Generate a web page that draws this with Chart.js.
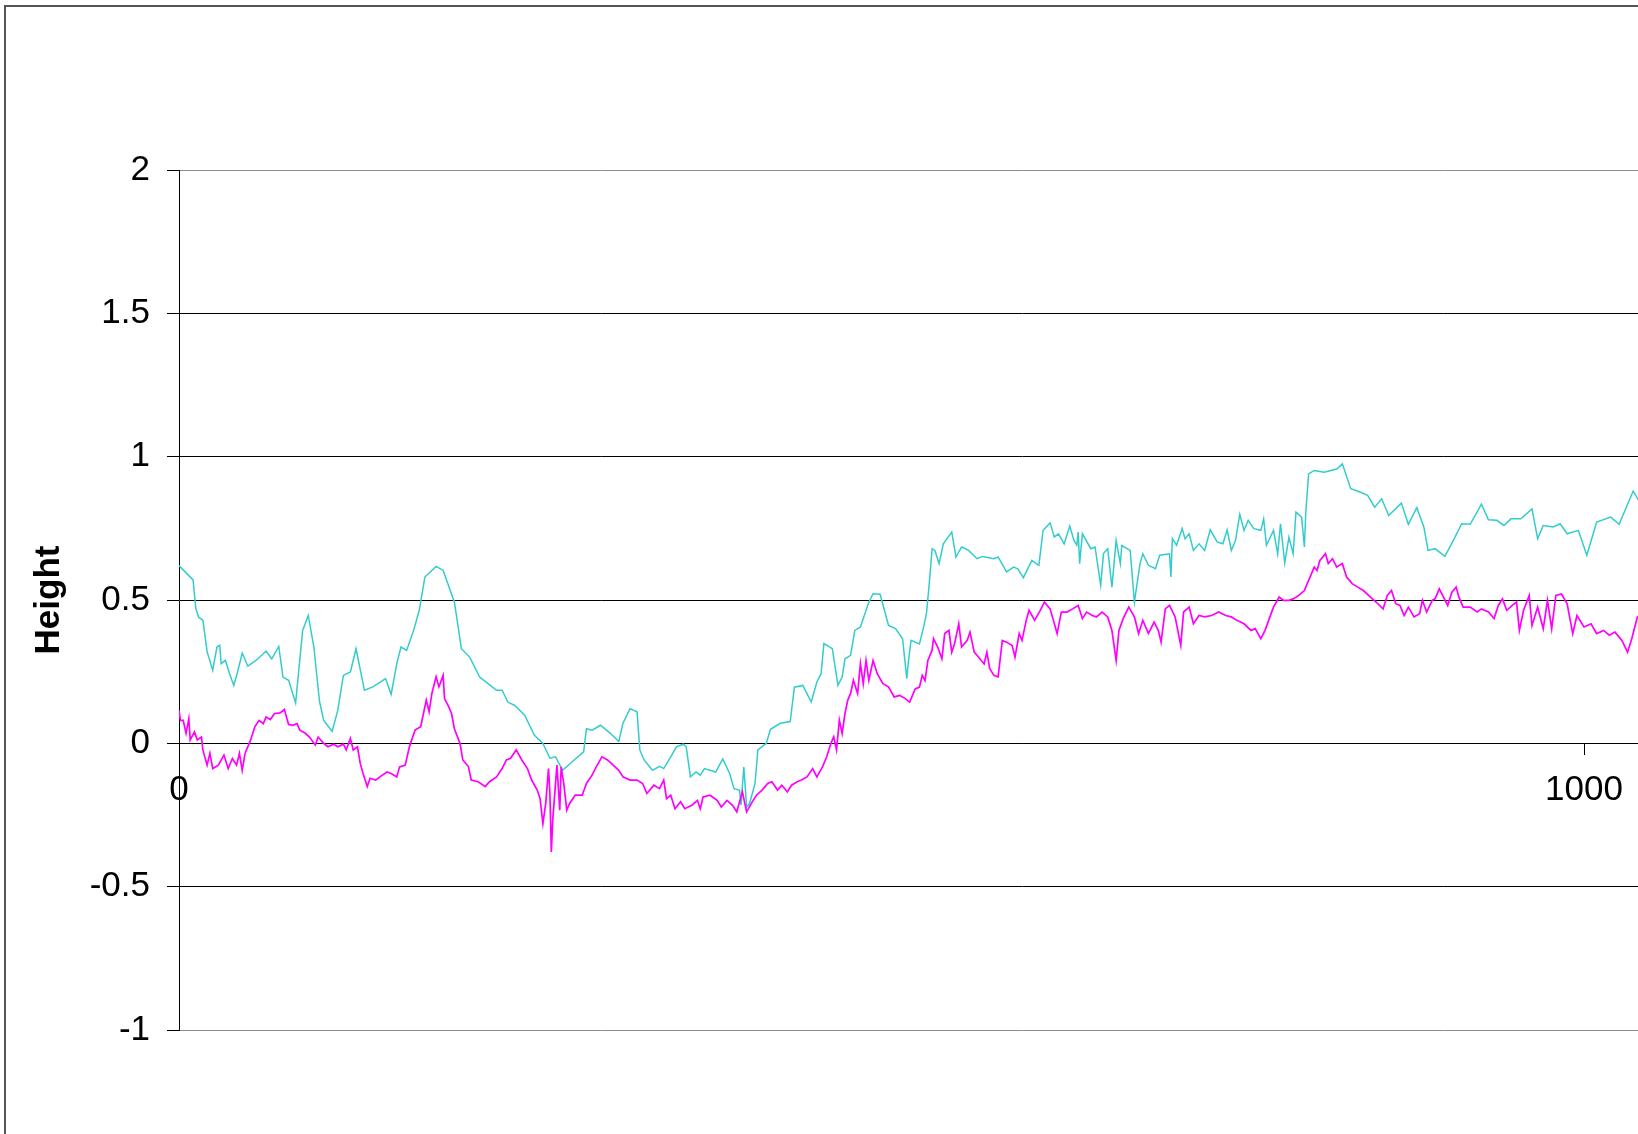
<!DOCTYPE html>
<html>
<head>
<meta charset="utf-8">
<script src="https://cdn.jsdelivr.net/npm/chart.js@4.4.1/dist/chart.umd.min.js"></script>
<style>
html, body { margin:0; padding:0; overflow:hidden; background:#fff; width:1638px; height:1134px; }
#frame { position:absolute; left:4px; top:5px; width:1900px; height:1300px; border:2px solid #555; }
#chart { position:absolute; left:0; top:0; }
</style>
</head>
<body>
<div id="frame"></div>
<canvas id="chart" width="1900" height="1200"></canvas>
<script>
// values, [x, height]
var cyanData = [[0,0.62],[10,0.57],[12,0.47],[14,0.44],[17,0.43],[20,0.32],[24,0.255],[27,0.336],[29,0.342],[30,0.278],
  [33,0.29],[36,0.243],[39,0.202],[42,0.255],[45,0.315],[49,0.269],[55,0.29],[62,0.322],[66,0.295],[71,0.338],
  [74,0.231],[78,0.22],[83,0.141],[88,0.394],[92,0.446],[96,0.336],[100,0.146],[103,0.08],[109,0.042],[113,0.115],
  [117,0.237],[122,0.249],[126,0.33],[132,0.185],[138,0.197],[147,0.226],[151,0.171],[155,0.278],[158,0.336],[162,0.324],
  [167,0.394],[171,0.464],[175,0.58],[183,0.617],[188,0.603],[196,0.493],[201,0.33],[207,0.30],[214,0.231],[220,0.208],
  [226,0.185],[230,0.185],[234,0.144],[239,0.132],[246,0.098],[253,0.028],[259,0.0],[264,-0.052],[268,-0.047],[273,-0.094],
  [281,-0.059],[288,-0.03],[290,0.051],[294,0.046],[300,0.063],[307,0.035],[313,0.006],[316,0.07],[321,0.121],[326,0.11],
  [328,-0.023],[331,-0.058],[337,-0.094],[342,-0.08],[345,-0.088],[350,-0.047],[354,-0.012],[359,-0.003],[361,-0.012],[364,-0.117],
  [368,-0.1],[371,-0.111],[374,-0.088],[382,-0.1],[387,-0.054],[392,-0.106],[395,-0.158],[399,-0.164],[400,-0.216],[402,-0.083],
  [404,-0.222],[406,-0.211],[408,-0.176],[410,-0.14],[412,-0.023],[418,0.0],[421,0.049],[428,0.07],[435,0.076],[438,0.196],
  [444,0.202],[450,0.144],[454,0.214],[457,0.243],[459,0.348],[465,0.33],[467,0.266],[469,0.202],[472,0.231],[474,0.295],
  [478,0.307],[481,0.394],[485,0.406],[491,0.493],[494,0.522],[499,0.52],[505,0.411],[510,0.40],[515,0.365],[518,0.226],
  [519,0.278],[521,0.359],[527,0.347],[530,0.406],[532,0.452],[534,0.557],[536,0.679],[538,0.673],[541,0.627],[544,0.696],
  [550,0.737],[553,0.65],[557,0.685],[562,0.673],[568,0.644],[572,0.652],[580,0.644],[583,0.65],[589,0.598],[594,0.615],
  [597,0.609],[601,0.578],[607,0.638],[612,0.621],[615,0.743],[620,0.769],[623,0.72],[626,0.731],[630,0.696],[634,0.758],
  [637,0.708],[639,0.691],[640,0.737],[641,0.627],[643,0.731],[649,0.679],[652,0.685],[656,0.551],[658,0.662],[661,0.679],
  [664,0.545],[667,0.708],[670,0.627],[671,0.69],[677,0.673],[680,0.493],[684,0.627],[686,0.661],[690,0.621],[695,0.609],
  [698,0.656],[705,0.661],[706,0.58],[707,0.714],[710,0.691],[714,0.749],[716,0.714],[719,0.731],[722,0.673],[726,0.696],
  [730,0.673],[734,0.745],[739,0.702],[743,0.696],[746,0.745],[749,0.673],[752,0.708],[755,0.799],[758,0.743],[761,0.778],
  [765,0.749],[770,0.743],[772,0.783],[774,0.691],[779,0.743],[782,0.661],[784,0.766],[787,0.629],[790,0.719],[793,0.661],
  [795,0.807],[799,0.789],[801,0.685],[802,0.807],[804,0.94],[808,0.952],[815,0.946],[824,0.957],[828,0.975],[834,0.888],
  [841,0.876],[846,0.865],[851,0.824],[856,0.853],[861,0.795],[870,0.838],[875,0.764],[881,0.822],[886,0.755],[889,0.673],
  [894,0.679],[901,0.652],[907,0.708],[913,0.766],[919,0.764],[927,0.834],[932,0.78],[938,0.778],[943,0.76],[948,0.783],
  [955,0.783],[963,0.818],[967,0.714],[971,0.76],[978,0.755],[983,0.766],[988,0.731],[996,0.743],[1002,0.656],[1009,0.772],
  [1019,0.789],[1025,0.764],[1035,0.88],[1039,0.847],[1045,0.83],[1055,0.85]];

var magentaData = [[0,0.115],[1,0.08],[3,0.08],[5,0.035],[7,0.086],[8,0.012],[11,0.04],[13,0.012],[16,0.022],[17,-0.023],
  [20,-0.076],[22,-0.035],[24,-0.088],[28,-0.076],[32,-0.041],[35,-0.088],[38,-0.053],[41,-0.076],[43,-0.035],[45,-0.094],
  [47,-0.035],[51,0.012],[54,0.058],[57,0.08],[60,0.069],[62,0.092],[65,0.083],[68,0.104],[72,0.106],[75,0.118],
  [78,0.066],[81,0.063],[84,0.069],[86,0.046],[90,0.035],[93,0.021],[97,-0.006],[99,0.022],[103,0.0],[106,-0.012],
  [110,-0.003],[113,-0.012],[117,-0.003],[119,-0.023],[122,0.017],[124,-0.023],[127,-0.012],[129,-0.07],[131,-0.105],[134,-0.151],
  [136,-0.122],[140,-0.128],[143,-0.117],[148,-0.1],[151,-0.105],[155,-0.117],[157,-0.082],[161,-0.076],[164,-0.012],[168,0.046],
  [172,0.058],[174,0.104],[176,0.151],[178,0.11],[180,0.174],[183,0.232],[185,0.197],[188,0.237],[189,0.156],[192,0.127],
  [194,0.104],[196,0.051],[200,0.0],[202,-0.058],[206,-0.081],[208,-0.128],[213,-0.134],[218,-0.151],[221,-0.134],[226,-0.117],
  [230,-0.088],[233,-0.058],[236,-0.052],[240,-0.023],[244,-0.058],[248,-0.088],[251,-0.128],[255,-0.163],[257,-0.193],[259,-0.28],
  [261,-0.21],[263,-0.088],[264,-0.175],[265,-0.379],[266,-0.268],[269,-0.076],[271,-0.233],[272,-0.082],[274,-0.146],[276,-0.233],
  [278,-0.21],[282,-0.181],[287,-0.181],[290,-0.14],[294,-0.111],[297,-0.082],[301,-0.047],[305,-0.058],[309,-0.076],[313,-0.094],
  [316,-0.117],[321,-0.128],[326,-0.128],[330,-0.14],[333,-0.175],[338,-0.146],[342,-0.158],[345,-0.128],[347,-0.193],[350,-0.181],
  [353,-0.228],[357,-0.204],[360,-0.228],[365,-0.216],[369,-0.199],[371,-0.228],[373,-0.187],[378,-0.181],[383,-0.199],[386,-0.222],
  [390,-0.199],[394,-0.216],[397,-0.239],[401,-0.169],[404,-0.239],[408,-0.204],[411,-0.181],[415,-0.163],[419,-0.14],[422,-0.134],
  [426,-0.163],[429,-0.146],[433,-0.169],[436,-0.146],[440,-0.134],[443,-0.128],[447,-0.117],[451,-0.088],[454,-0.117],[458,-0.082],
  [461,-0.047],[464,0.0],[466,0.023],[468,-0.023],[470,0.081],[472,0.035],[474,0.104],[476,0.151],[478,0.174],[480,0.22],
  [483,0.174],[485,0.278],[487,0.208],[489,0.289],[491,0.22],[494,0.289],[497,0.243],[501,0.208],[505,0.197],[509,0.162],
  [513,0.167],[517,0.156],[520,0.144],[524,0.19],[527,0.196],[529,0.237],[531,0.219],[533,0.289],[536,0.324],[537,0.365],
  [540,0.336],[543,0.295],[545,0.383],[548,0.394],[550,0.318],[552,0.347],[555,0.417],[557,0.336],[561,0.359],[563,0.388],
  [566,0.318],[569,0.301],[573,0.277],[575,0.318],[577,0.261],[580,0.237],[583,0.232],[586,0.359],[589,0.353],[593,0.341],
  [595,0.301],[598,0.383],[600,0.359],[603,0.429],[605,0.464],[609,0.429],[613,0.464],[616,0.493],[620,0.469],[622,0.435],
  [625,0.383],[628,0.458],[632,0.458],[636,0.469],[640,0.481],[643,0.435],[646,0.458],[650,0.446],[653,0.441],[657,0.458],
  [661,0.441],[664,0.394],[667,0.289],[669,0.394],[672,0.435],[676,0.475],[680,0.441],[683,0.383],[686,0.429],[690,0.383],
  [694,0.423],[697,0.394],[699,0.353],[702,0.469],[705,0.481],[709,0.441],[713,0.342],[715,0.458],[719,0.475],[722,0.417],
  [726,0.446],[730,0.441],[735,0.446],[740,0.458],[745,0.446],[749,0.441],[753,0.429],[758,0.417],[763,0.394],[766,0.4],
  [770,0.365],[773,0.394],[776,0.435],[779,0.475],[783,0.51],[786,0.499],[790,0.499],[793,0.504],[797,0.516],[801,0.533],
  [803,0.557],[805,0.58],[808,0.615],[810,0.603],[812,0.638],[816,0.661],[818,0.627],[821,0.644],[824,0.615],[828,0.627],
  [831,0.58],[835,0.557],[839,0.545],[843,0.533],[848,0.51],[852,0.493],[857,0.469],[860,0.516],[863,0.533],[866,0.487],
  [869,0.481],[872,0.446],[875,0.475],[879,0.441],[883,0.452],[885,0.499],[888,0.458],[892,0.499],[894,0.504],[897,0.539],
  [900,0.51],[903,0.481],[906,0.527],[909,0.545],[911,0.51],[914,0.475],[919,0.475],[924,0.458],[927,0.469],[932,0.458],
  [936,0.435],[939,0.481],[942,0.504],[945,0.464],[949,0.481],[952,0.493],[954,0.394],[957,0.464],[961,0.516],[963,0.411],
  [967,0.475],[971,0.4],[974,0.499],[977,0.4],[980,0.516],[984,0.521],[988,0.487],[992,0.383],[995,0.446],[1000,0.406],
  [1005,0.417],[1009,0.383],[1014,0.394],[1018,0.377],[1022,0.388],[1027,0.359],[1031,0.318],[1034,0.365],[1038,0.441],[1045,0.46],
  [1055,0.45]];

var yTicks = [-1, -0.5, 0, 0.5, 1, 1.5, 2];
var xTicks = [0, 1000];

Chart.defaults.font.family = "'Liberation Sans', Arial, sans-serif";

function toPoints(arr) {
  return arr.map(function(p) { return {x: p[0], y: p[1]}; });
}

function plainLabel(v) { return String(v); }

var ctx = document.getElementById('chart').getContext('2d');
var chart = new Chart(ctx, {
  type: 'line',
  data: {
    datasets: [{
      data: toPoints(magentaData),
      borderColor: '#FF00FF',
      borderWidth: 1.7,
      pointRadius: 0,
      tension: 0,
      fill: false
    }, {
      data: toPoints(cyanData),
      borderColor: '#33CCCC',
      borderWidth: 1.5,
      pointRadius: 0,
      tension: 0,
      fill: false
    }]
  },
  options: {
    responsive: false,
    animation: false,
    devicePixelRatio: 1,
    layout: { padding: { top: 170, left: 0, right: 35, bottom: 170 } },
    plugins: { legend: { display: false }, tooltip: { enabled: false } },
    scales: {
      x: {
        type: 'linear',
        min: 0,
        max: 1200,
        position: { y: 0 },
        afterBuildTicks: function(s) { s.ticks = xTicks.map(function(v) { return {value: v}; }); },
        grid: { drawOnChartArea: false, drawTicks: true, tickLength: 11, color: '#000', tickColor: '#000' },
        border: { display: true, color: '#000', width: 1 },
        ticks: { font: { size: 35 }, color: '#000', padding: 15, maxRotation: 0, autoSkip: false, callback: plainLabel }
      },
      y: {
        min: -1,
        max: 2,
        afterBuildTicks: function(s) { s.ticks = yTicks.map(function(v) { return {value: v}; }); },
        afterFit: function(s) { s.width = 179; },
        title: {
          display: true,
          text: 'Height',
          color: '#000',
          font: { size: 35, weight: 'bold' },
          padding: { top: 28, bottom: 0 }
        },
        grid: {
          color: function(c) { return (c.tick && (c.tick.value === 2 || c.tick.value === -1)) ? '#8c8c8c' : '#000'; },
          tickColor: '#000',
          tickLength: 12,
          lineWidth: 1
        },
        border: { display: true, color: '#000', width: 1 },
        ticks: { font: { size: 35 }, color: '#000', padding: 17, callback: plainLabel }
      }
    }
  }
});
</script>
</body>
</html>
